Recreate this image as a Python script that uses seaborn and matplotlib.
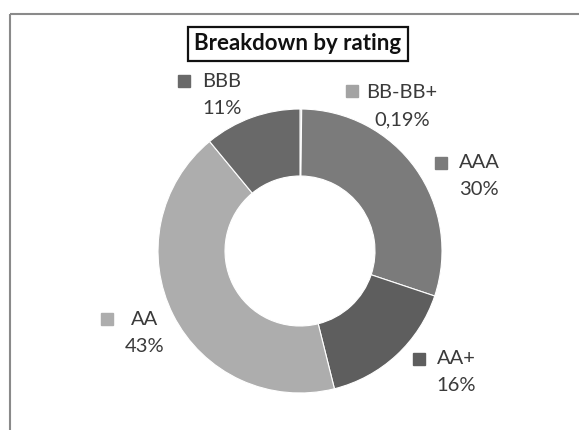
import matplotlib
matplotlib.use("Agg")
import matplotlib.pyplot as plt
import seaborn as sns
from matplotlib.patches import Rectangle

sns.set_theme(style="white")
plt.rcParams['font.family'] = ['Lato', 'DejaVu Sans']

categories = ["BB-BB+", "AAA", "AA+", "AA", "BBB"]
values = [0.19, 30, 16, 43, 11]
pct_labels = ["0,19%", "30%", "16%", "43%", "11%"]
colors = ["#a3a3a3", "#7b7b7b", "#5e5e5e", "#adadad", "#696969"]
title = "Breakdown by rating"

W, H = 579, 430
fig = plt.figure(figsize=(W / 100, H / 100), dpi=100)
ax = fig.add_axes([0, 0, 1, 1])

# outer frame
ax.add_patch(Rectangle((10, 14), 700, 600, fill=False, edgecolor="#8a8a8a", lw=1.5))

cx, cy, R = 300, 251, 142
# inverted y-axis: counterclock=True appears clockwise on screen
wedges, _ = ax.pie(values, colors=colors, startangle=-90, counterclock=True,
                   center=(cx, cy), radius=R, frame=True,
                   wedgeprops=dict(width=67, edgecolor="white", linewidth=0.8))
ax.set_xlim(0, W)
ax.set_ylim(H, 0)
ax.set_aspect("equal")
ax.axis("off")

# title box
ax.text(298, 44, title, ha="center", va="center", fontsize=16, fontweight="bold",
        color="#111111",
        bbox=dict(boxstyle="square,pad=0.3", facecolor="white", edgecolor="#111111", lw=1.6))

label_pos = {
    "BB-BB+": ((352, 91), (402, 106)),
    "AAA": ((441, 163), (479, 176)),
    "AA+": ((419, 359), (456, 372)),
    "AA": ((107, 319), (145, 333)),
    "BBB": ((184, 81), (222, 95)),
}
for cat, pct, col in zip(categories, pct_labels, colors):
    (mx, my), (tx, ty) = label_pos[cat]
    ax.plot(mx, my, marker="s", markersize=8.5, color=col, linestyle="none")
    ax.text(tx, ty, f"{cat}\n{pct}", ha="center", va="center", fontsize=14.5,
            color="#3a3a3a", linespacing=1.75, multialignment="center")

fig.savefig("out.png", dpi=100, facecolor="white")
